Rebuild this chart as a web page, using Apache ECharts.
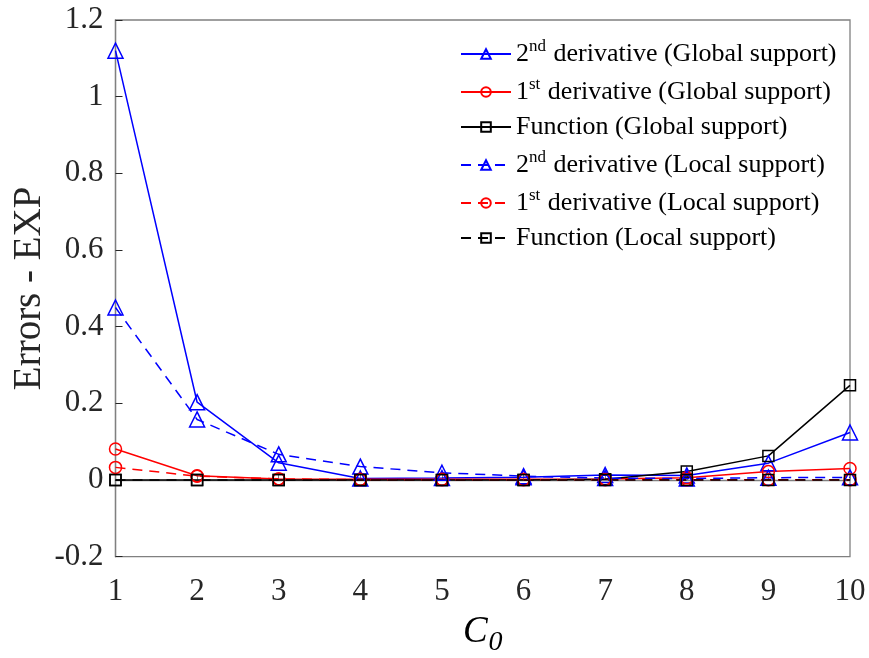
<!DOCTYPE html>
<html>
<head>
<meta charset="utf-8">
<script src="https://cdn.jsdelivr.net/npm/echarts@6/dist/echarts.min.js"></script>
<style>html,body{margin:0;padding:0;background:#fff;}#c{width:869px;height:658px;}</style>
</head>
<body>
<div id="c"></div>
<script>
const xValues = [1, 2, 3, 4, 5, 6, 7, 8, 9, 10];
const global2nd = [1.12, 0.203, 0.045, 0.004, 0.005, 0.007, 0.013, 0.012, 0.044, 0.124];
const global1st = [0.081, 0.011, 0.003, 0.002, 0.002, 0.002, 0.003, 0.006, 0.022, 0.030];
const globalFn = [0, 0, 0, 0, 0, 0, 0.002, 0.022, 0.063, 0.247];
const local2nd = [0.45, 0.158, 0.067, 0.035, 0.019, 0.010, 0.005, 0.004, 0.006, 0.007];
const local1st = [0.033, 0.010, 0.003, 0.001, 0.001, 0.001, 0.001, 0.001, 0.001, 0.001];
const localFn = [0, 0, 0, 0, 0, 0, 0, 0, 0, 0];
const seriesNames = [
  "2nd derivative (Global support)",
  "1st derivative (Global support)",
  "Function (Global support)",
  "2nd derivative (Local support)",
  "1st derivative (Local support)",
  "Function (Local support)"
];
const yTicks = [-0.2, 0, 0.2, 0.4, 0.6, 0.8, 1, 1.2];

const FONT = "Liberation Serif";
function pairs(arr) { return xValues.map((x, i) => [x, arr[i]]); }
function mk(name, data, color, symbol, size, dashed) {
  return {
    name: name, type: 'line', data: pairs(data),
    symbol: symbol, symbolSize: size,
    lineStyle: { color: color, width: 1.5, type: dashed ? [10, 7] : 'solid' },
    itemStyle: { color: 'rgba(255,255,255,0)', borderColor: color, borderWidth: 1.5 },
    emphasis: { disabled: true },
    animation: false
  };
}
const chart = echarts.init(document.getElementById('c'), null, { renderer: 'canvas' });
chart.setOption({
  backgroundColor: '#fff',
  animation: false,
  grid: { left: 115.5, right: 19, top: 20, bottom: 101.3, outerBoundsMode: 'none', containLabel: false,
    show: true, borderColor: '#808080', borderWidth: 1.3, backgroundColor: 'transparent' },
  legend: {
    left: 460, top: 38, orient: 'vertical', padding: 0, itemWidth: 50, itemHeight: 12, itemGap: 9,
    data: seriesNames,
    formatter: function (n) { return n.replace(/^(\d)(nd|st) /, '$1{sup|$2} '); },
    textStyle: {
      fontFamily: FONT, fontSize: 26, color: '#000', lineHeight: 26,
      rich: { sup: { fontFamily: FONT, fontSize: 17, verticalAlign: 'bottom', padding: [0, 1, 12, 0], color: '#000' } }
    }
  },
  xAxis: {
    type: 'value', min: 1, max: 10, interval: 1,
    name: '{c|C}{s|0}', nameLocation: 'middle', nameGap: 52, nameMoveOverlap: false,
    nameTextStyle: { rich: {
      c: { fontFamily: FONT, fontStyle: 'italic', fontSize: 37, color: '#000' },
      s: { fontFamily: FONT, fontStyle: 'italic', fontSize: 28, color: '#000', verticalAlign: 'top', padding: [20, 0, 0, 1] }
    } },
    axisLine: { show: true, lineStyle: { color: '#808080', width: 1.3 } },
    axisTick: { show: true, inside: true, length: 6, lineStyle: { color: '#808080' } },
    splitLine: { show: false },
    axisLabel: { fontFamily: FONT, fontSize: 31, color: '#262626', margin: 20 }
  },
  yAxis: {
    type: 'value', min: -0.2, max: 1.2, interval: 0.2,
    name: 'Errors - EXP', nameLocation: 'middle', nameGap: 66, nameMoveOverlap: false,
    nameTextStyle: { fontFamily: FONT, fontSize: 39, color: '#262626' },
    axisLine: { show: true, lineStyle: { color: '#808080', width: 1.3 } },
    axisTick: { show: true, inside: true, length: 7, lineStyle: { color: '#262626' } },
    splitLine: { show: false },
    axisLabel: { fontFamily: FONT, fontSize: 31, color: '#262626', margin: 12,
      formatter: function (v) { const r = Math.round(v * 10) / 10; return yTicks.includes(r) ? String(r) : ''; } }
  },
  series: [
    mk(seriesNames[0], global2nd, '#0000ff', 'triangle', 15, false),
    mk(seriesNames[1], global1st, '#ff0000', 'circle', 12, false),
    mk(seriesNames[2], globalFn, '#000000', 'rect', 11, false),
    mk(seriesNames[3], local2nd, '#0000ff', 'triangle', 15, true),
    mk(seriesNames[4], local1st, '#ff0000', 'circle', 12, true),
    mk(seriesNames[5], localFn, '#000000', 'rect', 11, true)
  ]
});
</script>
</body>
</html>
